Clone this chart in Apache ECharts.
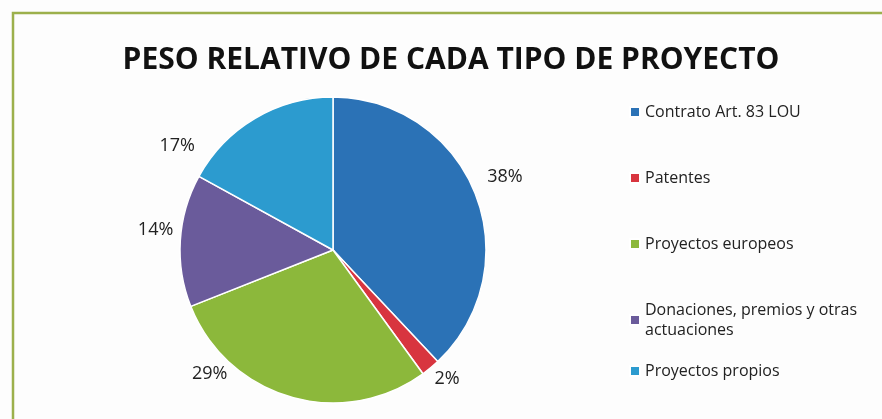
<!DOCTYPE html>
<html>
<head>
<meta charset="utf-8">
<script src="https://cdn.jsdelivr.net/npm/echarts@6/dist/echarts.min.js"></script>
<style>
  html, body { margin: 0; padding: 0; background: #fff; }
  #chart { width: 882px; height: 419px; }
</style>
</head>
<body>
<div id="chart"></div>
<script>
const categories = ['Contrato Art. 83 LOU', 'Patentes', 'Proyectos europeos', 'Donaciones, premios y otras\nactuaciones', 'Proyectos propios'];
const values = [38, 2, 29, 14, 17];
const colors = ['#2b72b6', '#d8353f', '#8cb83b', '#6a5b9b', '#2c9bcf'];
const legendTops = [97, 163, 229, 295, 356];
// label nudges to mimic Excel's "best fit" placement
const labelOffsets = [[-6, -12], [-10, 0], [-54, -36], [12, -10], [-48, 40]];

const chart = echarts.init(document.getElementById('chart'));

const legends = categories.map((name, i) => ({
  orient: 'vertical',
  left: 624,
  top: legendTops[i],
  data: [name],
  icon: 'rect',
  itemWidth: 10,
  itemHeight: 10,
  itemGap: 6,
  selectedMode: false,
  textStyle: { fontFamily: 'Open Sans', fontSize: 16, color: '#222', lineHeight: 20 }
}));

const option = {
  backgroundColor: '#fdfdfd',
  color: colors,
  title: {
    text: 'PESO RELATIVO DE CADA TIPO DE PROYECTO',
    left: 446,
    textAlign: 'center',
    top: 40,
    textStyle: { fontFamily: 'Open Sans', fontWeight: 'bold', fontSize: 30, color: '#111' }
  },
  legend: legends,
  graphic: [{
    type: 'rect',
    shape: { x: 13, y: 13, width: 900, height: 430 },
    style: { fill: 'none', stroke: '#9cb04c', lineWidth: 2.5 },
    silent: true
  }],
  series: [{
    type: 'pie',
    center: [333, 250],
    radius: 153,
    startAngle: 90,
    clockwise: true,
    data: categories.map((name, i) => ({
      name,
      value: values[i],
      label: { offset: labelOffsets[i] }
    })),
    itemStyle: { borderColor: '#fff', borderWidth: 1.5 },
    label: {
      show: true,
      position: 'outside',
      formatter: '{c}%',
      fontFamily: 'Open Sans',
      fontSize: 18,
      color: '#222'
    },
    labelLine: { show: false, length: 14, length2: 0 },
    emphasis: { disabled: true }
  }]
};

chart.setOption(option);
</script>
</body>
</html>
